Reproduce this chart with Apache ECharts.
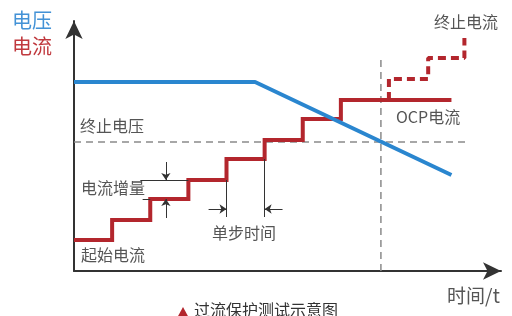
<!DOCTYPE html>
<html><head><meta charset="utf-8">
<script src="https://cdn.jsdelivr.net/npm/echarts@6/dist/echarts.min.js"></script>
<style>html,body{margin:0;padding:0;background:#fff}#c{width:512px;height:316px}</style>
</head><body><div id="c"></div>
<script>
// ---- data (time in step units, values in arbitrary units) ----
const stepTimes = [0, 1, 2, 3, 4, 5, 6, 7];
const stepCurrents = [1.55, 2.55, 3.6, 4.55, 5.6, 6.55, 7.6, 8.55];
const currentEndTime = 9.9;
const overTimes = [8.26, 9.29, 10.24];
const overCurrents = [9.6, 10.65, 11.65];
const voltageTimes = [0, 4.75, 9.9];
const voltageValues = [9.45, 9.45, 4.8];
const cutoffVoltage = 6.45;
const cutoffVoltageEnd = 10.37;
const ocpTime = 8.05;
const ocpTop = 10.65;
// annotation helpers
const deltaArrowTime = 2.41;
const deltaArrowTails = [5.45, 2.65];
const deltaLineStarts = [1.74, 1.8];
const stepTimeGuideBottom = 2.7;
const stepTimeArrowLevel = 3.1;
const stepTimeArrowTails = [3.53, 5.47];

// ---- build series data ----
const current = [];
stepTimes.forEach((t, i) => {
  const next = i + 1 < stepTimes.length ? stepTimes[i + 1] : currentEndTime;
  current.push([t, stepCurrents[i]]);
  current.push([next, stepCurrents[i]]);
});
const lastI = stepCurrents[stepCurrents.length - 1];
const over = [[overTimes[0], lastI]];
overTimes.forEach((t, i) => {
  over.push([t, overCurrents[i]]);
  if (i + 1 < overTimes.length) over.push([overTimes[i + 1], overCurrents[i]]);
});
const voltage = voltageTimes.map((t, i) => [t, voltageValues[i]]);

const plainLines = [
  {coords: [[deltaLineStarts[0], stepCurrents[3]], [stepTimes[3], stepCurrents[3]]]},
  {coords: [[deltaLineStarts[1], stepCurrents[2]], [stepTimes[2], stepCurrents[2]]]},
  {coords: [[stepTimes[4], stepCurrents[3]], [stepTimes[4], stepTimeGuideBottom]]},
  {coords: [[stepTimes[5], stepCurrents[4]], [stepTimes[5], stepTimeGuideBottom]]}
];
const arrowLines = [
  {coords: [[deltaArrowTime, deltaArrowTails[0]], [deltaArrowTime, stepCurrents[3]]]},
  {coords: [[deltaArrowTime, deltaArrowTails[1]], [deltaArrowTime, stepCurrents[2]]]},
  {coords: [[stepTimeArrowTails[0], stepTimeArrowLevel], [stepTimes[4], stepTimeArrowLevel]]},
  {coords: [[stepTimeArrowTails[1], stepTimeArrowLevel], [stepTimes[5], stepTimeArrowLevel]]}
];

const RED = '#b3262d', BLUE = '#2a86cf', GRAY = '#8a8a8a', TXT = '#555';
const FONT = '"Noto Sans CJK SC", "Noto Sans", sans-serif';
const chart = echarts.init(document.getElementById('c'));
const txt = (text, x, y, size, color, extra) => Object.assign({
  type: 'text', left: x, top: y,
  style: {text, fontSize: size, fill: color, fontFamily: FONT}
}, extra || {});

chart.setOption({
  animation: false,
  grid: {left: 74, right: 11, top: 21, bottom: 45},
  xAxis: {
    type: 'value', min: 0, max: 11.2,
    axisLine: {show: true, symbol: ['none', 'arrow'], symbolSize: [13, 18], lineStyle: {color: '#333', width: 2}},
    axisTick: {show: false}, axisLabel: {show: false}, splitLine: {show: false}
  },
  yAxis: {
    type: 'value', min: 0, max: 12.5,
    axisLine: {show: true, symbol: ['none', 'arrow'], symbolSize: [13, 18], lineStyle: {color: '#333', width: 2}},
    axisTick: {show: false}, axisLabel: {show: false}, splitLine: {show: false}
  },
  series: [
    {type: 'line', data: [[0, cutoffVoltage], [cutoffVoltageEnd, cutoffVoltage]], symbol: 'none',
     lineStyle: {color: GRAY, width: 1.5, type: [7, 5]}, z: 1},
    {type: 'line', data: [[ocpTime, 0], [ocpTime, ocpTop]], symbol: 'none',
     lineStyle: {color: GRAY, width: 1.5, type: [7, 5]}, z: 1},
    {type: 'line', data: over, symbol: 'none',
     lineStyle: {color: RED, width: 4, type: [8, 5]}, z: 2},
    {type: 'line', data: current, symbol: 'none',
     lineStyle: {color: RED, width: 4, join: 'miter'}, z: 3},
    {type: 'line', data: voltage, symbol: 'none',
     lineStyle: {color: BLUE, width: 4}, z: 4},
    {type: 'lines', coordinateSystem: 'cartesian2d', data: plainLines, symbol: 'none',
     lineStyle: {color: '#333', width: 1, opacity: 1}, z: 5},
    {type: 'lines', coordinateSystem: 'cartesian2d', data: arrowLines, symbol: ['none', 'arrow'], symbolSize: 7,
     lineStyle: {color: '#333', width: 1, opacity: 1}, z: 5}
  ],
  graphic: [
    txt('电压', 12, 10, 20, '#4392d6'),
    txt('电流', 12, 36, 20, '#c0393e'),
    txt('终止电流', 434, 14, 16, TXT),
    txt('OCP电流', 396, 109, 16, TXT),
    txt('终止电压', 80, 118, 16, TXT),
    txt('电流增量', 81, 180, 16, TXT),
    txt('起始电流', 81, 247, 16, TXT),
    txt('单步时间', 212, 225, 16, TXT),
    txt('时间/t', 447, 286, 19, TXT),
    {type: 'polygon', shape: {points: [[183, 307], [177, 318], [189, 318]]}, style: {fill: RED}},
    txt('过流保护测试示意图', 194, 302, 16, '#333')
  ]
});
</script></body></html>
